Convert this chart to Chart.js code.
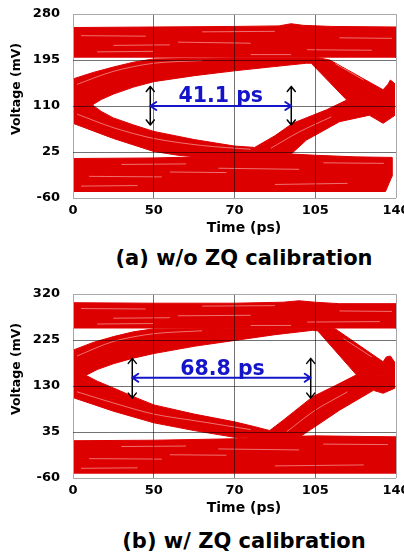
<!DOCTYPE html>
<html>
<head>
<meta charset="utf-8">
<script src="https://cdn.jsdelivr.net/npm/chart.js@4.4.1/dist/chart.umd.min.js"></script>
<style>
  html, body { margin: 0; padding: 0; background: #fff; }
  body { width: 404px; height: 555px; position: relative; overflow: hidden; }
  canvas { position: absolute; left: 0; }
  #eyeA { top: 0; }
  #eyeB { top: 280px; }
  .cap { position: absolute; left: 44px; width: 400px; text-align: center;
         font: bold 21px "DejaVu Sans", sans-serif; line-height: 24px; color: #000; }
</style>
</head>
<body>
<canvas id="eyeA" width="404" height="240"></canvas>
<div class="cap" style="top:246px">(a) w/o ZQ calibration</div>
<canvas id="eyeB" width="404" height="240"></canvas>
<div class="cap" style="top:529px">(b) w/ ZQ calibration</div>

<script>
/* ---------- DATA ---------- */
// x is in grid divisions (0..4), labelled with the time ticks below
const timeTicks = ["0", "50", "70", "105", "140"];
const voltTicksA = [-60, 25, 110, 195, 280];
const voltTicksB = [-60, 35, 130, 225, 320];

// (a) w/o ZQ calibration : trace envelopes [div, mV]
const topRailA = [[0,199],[0,255],[1,256],[2,257],[2.55,258],[2.7,262],[2.85,259],[3.2,257],[4,256],[4,199]];
const bottomRailA = [[0,13],[1,14],[1.6,16],[2.2,20],[2.6,22],[3,19],[3.5,16],[3.95,15],[3.95,-20],[3.87,-48],[0,-48]];
const upperTraceA = [[0,160],[0.25,172],[0.5,182],[0.75,191],[1,197],[2,199],[3.04,199],[3.18,195],
  [3.84,140],[3.9,150],[3.93,158],[3.98,152],[3.98,110],
  [3.39,121],[2.95,189],[2.89,189],[2.5,183],[2,175],[1.5,166],[1,155],[0.75,145],
  [0.5,132],[0.35,122],[0.24,112],[0,112]];
const lowerTraceA = [[0,112],[0.24,112],[0.35,100],[0.5,88],[0.75,75],[1,63],[1.5,48],[2,36],[2.25,33.5],
  [2.5,55],[2.72,78],[3.14,103],[3.39,121],[3.98,110],[3.98,92],[3.9,84],[3.84,78],[3.67,93],[3.3,81],
  [2.89,47],[2.7,21],[2.2,19],[1.6,15],[1.3,19],[1,26],[0.5,50],[0.25,64],[0,78]];
const streaksA = [
  [[0.1,240],[0.9,239]], [[1.3,228],[2.2,226]], [[2.9,214],[3.7,213]], [[0.3,210],[1.0,211]],
  [[1.6,247],[2.5,248]], [[3.3,236],[3.95,235]], [[0.5,222],[1.2,223]], [[2.2,205],[2.7,205]],
  [[0.2,-20],[1.1,-21]], [[1.8,-5],[2.8,-7]], [[2.5,-35],[3.4,-33]], [[0.6,2],[1.4,3]],
  [[0.1,-38],[0.8,-37]], [[3.1,5],[3.85,4]], [[1.2,-12],[1.9,-13]],
  [[0.05,150],[0.5,174],[1,189],[1.6,194]], [[0.05,95],[0.5,70],[1,50],[1.6,37],[2.2,30]],
  [[2.45,32],[2.8,62],[3.2,90]], [[3.25,188],[3.6,158]]
];
const eyeSpanA = [0.957, 2.703];  // blue arrow ends
const eyeLevelA = 110;            // blue arrow height (mV)
const markerA = [75, 146];        // black arrows (mV)
const labelA = "41.1 ps";
const labelAtA = [1.83, 118];

// (b) w/ ZQ calibration
const topRailB = [[0,249],[0,302],[1,301],[2,301],[2.6,303],[2.8,306],[3.0,303],[3.3,300],[4,300],[4,249]];
const bottomRailB = [[0,17],[1,18],[2,21],[2.5,25],[3,27],[4,25],[4,-50],[0,-50]];
const upperTraceB = [[0,204],[0.25,220],[0.5,232],[0.75,242],[1,248],[2,249],[3.24,249],
  [3.84,180],[3.88,190],[3.93,192],[3.98,180],[3.98,150],
  [3.51,153],[3.03,244],[2.97,245],[2.5,236],[2,224],[1.5,212],[1,197],
  [0.734,187],[0.5,176],[0.3,164],[0.16,152],[0,152]];
const lowerTraceB = [[0,152],[0.16,152],[0.3,140],[0.5,126],[0.734,109],[1,91],[1.5,72],[2,56],[2.25,46],[2.435,38],
  [2.6,59],[2.97,108],[3.25,131],[3.51,153],[3.98,150],[3.98,125],[3.84,115],[3.72,121],
  [3.3,80],[2.81,25],[2.4,21],[2,24],[1.5,38],[1,54],[0.5,78],[0,106]];
const streaksB = [
  [[0.1,290],[0.9,289]], [[1.3,275],[2.2,276]], [[2.9,262],[3.8,263]], [[0.3,258],[1.0,259]],
  [[1.6,295],[2.5,296]], [[3.3,285],[3.95,284]], [[0.5,270],[1.2,271]], [[2.2,255],[2.7,255]],
  [[0.2,-20],[1.1,-21]], [[1.8,0],[2.8,-2]], [[2.5,-35],[3.6,-33]], [[0.6,5],[1.4,6]],
  [[0.1,-40],[0.8,-39]], [[3.1,10],[3.9,9]], [[1.2,-12],[1.9,-13]],
  [[0.05,192],[0.5,222],[1,238],[1.6,244]], [[0.05,118],[0.5,95],[1,72],[1.6,56],[2.2,40]],
  [[2.65,36],[3.0,80],[3.4,118]], [[3.35,228],[3.7,190]]
];
const eyeSpanB = [0.734, 2.944];
const eyeLevelB = 147;
const markerB = [105, 187];
const labelB = "68.8 ps";
const labelAtB = [1.851, 153];

/* ---------- STYLE ---------- */
const RED = "#dd0000";
const BLUE = "#1414c8";
const FONT = '"DejaVu Sans", sans-serif';

/* ---------- HELPERS ---------- */
const pts = arr => arr.map(([x, y]) => ({x, y}));

// lower "order" is painted later (on top)
function shape(arr) {
  return { data: pts(arr), order: 2, showLine: true, fill: "shape", tension: 0,
           backgroundColor: RED, borderColor: RED, borderWidth: 1, pointRadius: 0 };
}
function streak(arr) {
  return { data: pts(arr), order: 1, showLine: true, fill: false, tension: 0.3,
           borderColor: "rgba(255,225,225,0.5)", borderWidth: 1, pointRadius: 0 };
}
function gridColor(ctx) {
  const n = ctx.scale.ticks.length - 1;
  return (ctx.index === 0 || ctx.index === n) ? "#a8a8a8" : "rgba(0,0,0,0.55)";
}

/* ---------- PLUGIN: axis titles + eye width marks ---------- */
const eyeMarks = {
  id: "eyeMarks",
  afterDraw(chart, args, o) {
    const {ctx, chartArea: a, scales: {x, y}} = chart;
    ctx.save();
    ctx.fillStyle = "#000";
    ctx.textAlign = "center";
    ctx.textBaseline = "middle";
    ctx.font = "bold 14px " + FONT;
    ctx.fillText("Time (ps)", a.left + 171, a.bottom + 30);
    ctx.translate(17, a.top + 75);
    ctx.rotate(-Math.PI / 2);
    ctx.font = "bold 12.5px " + FONT;
    ctx.fillText("Voltage (mV)", 0, 0);
    ctx.restore();

    const xl = x.getPixelForValue(o.span[0]), xr = x.getPixelForValue(o.span[1]);
    const yl = y.getPixelForValue(o.level);
    const yt = y.getPixelForValue(o.marker[1]), yb = y.getPixelForValue(o.marker[0]);
    ctx.save();
    ctx.lineCap = "round";
    ctx.lineJoin = "round";
    ctx.strokeStyle = "#000";
    ctx.lineWidth = 1.5;
    [xl, xr].forEach(px => {
      ctx.beginPath();
      ctx.moveTo(px, yt); ctx.lineTo(px, yb);
      ctx.moveTo(px - 4, yt + 5); ctx.lineTo(px, yt); ctx.lineTo(px + 4, yt + 5);
      ctx.moveTo(px - 4, yb - 5); ctx.lineTo(px, yb); ctx.lineTo(px + 4, yb - 5);
      ctx.stroke();
    });
    ctx.strokeStyle = BLUE;
    ctx.lineWidth = 2;
    ctx.beginPath();
    ctx.moveTo(xl, yl); ctx.lineTo(xr, yl);
    ctx.moveTo(xl + 6, yl - 4); ctx.lineTo(xl, yl); ctx.lineTo(xl + 6, yl + 4);
    ctx.moveTo(xr - 6, yl - 4); ctx.lineTo(xr, yl); ctx.lineTo(xr - 6, yl + 4);
    ctx.stroke();
    ctx.fillStyle = BLUE;
    ctx.font = "bold 20.5px " + FONT;
    ctx.textAlign = "center";
    ctx.textBaseline = "alphabetic";
    ctx.fillText(o.label, x.getPixelForValue(o.labelAt[0]), y.getPixelForValue(o.labelAt[1]));
    ctx.restore();
  }
};

/* ---------- CHARTS ---------- */
function eyeChart(id, shapes, streaks, vTicks, marks) {
  return new Chart(document.getElementById(id), {
    type: "scatter",
    data: { datasets: [...shapes.map(shape), ...streaks.map(streak)] },
    plugins: [eyeMarks],
    options: {
      responsive: false,
      devicePixelRatio: 1,
      animation: false,
      events: [],
      layout: { padding: { top: 14, right: 8, bottom: 0, left: 0 } },
      plugins: { legend: { display: false }, tooltip: { enabled: false }, eyeMarks: marks },
      scales: {
        x: {
          type: "linear", min: 0, max: 4,
          afterBuildTicks: s => { s.ticks = timeTicks.map((t, i) => ({ value: i })); },
          afterFit: s => { s.height = 42; s.paddingLeft = 0; s.paddingRight = 0; },
          ticks: { callback: v => timeTicks[v], color: "#000", padding: 5, maxRotation: 0,
                   autoSkip: false, font: { family: FONT, size: 13, weight: "bold" } },
          grid: { color: gridColor, drawTicks: false, z: 1 },
          border: { display: false }
        },
        y: {
          type: "linear", min: vTicks[0], max: vTicks[vTicks.length - 1],
          afterBuildTicks: s => { s.ticks = vTicks.map(v => ({ value: v })); },
          afterFit: s => { s.width = 73; s.paddingTop = 0; s.paddingBottom = 0; },
          ticks: { color: "#000", padding: 13,
                   font: { family: FONT, size: 13, weight: "bold" } },
          grid: { color: gridColor, drawTicks: false, z: 1 },
          border: { display: false }
        }
      }
    }
  });
}

eyeChart("eyeA", [topRailA, bottomRailA, upperTraceA, lowerTraceA], streaksA, voltTicksA,
  { span: eyeSpanA, level: eyeLevelA, marker: markerA, label: labelA, labelAt: labelAtA });
eyeChart("eyeB", [topRailB, bottomRailB, upperTraceB, lowerTraceB], streaksB, voltTicksB,
  { span: eyeSpanB, level: eyeLevelB, marker: markerB, label: labelB, labelAt: labelAtB });
</script>
</body>
</html>
